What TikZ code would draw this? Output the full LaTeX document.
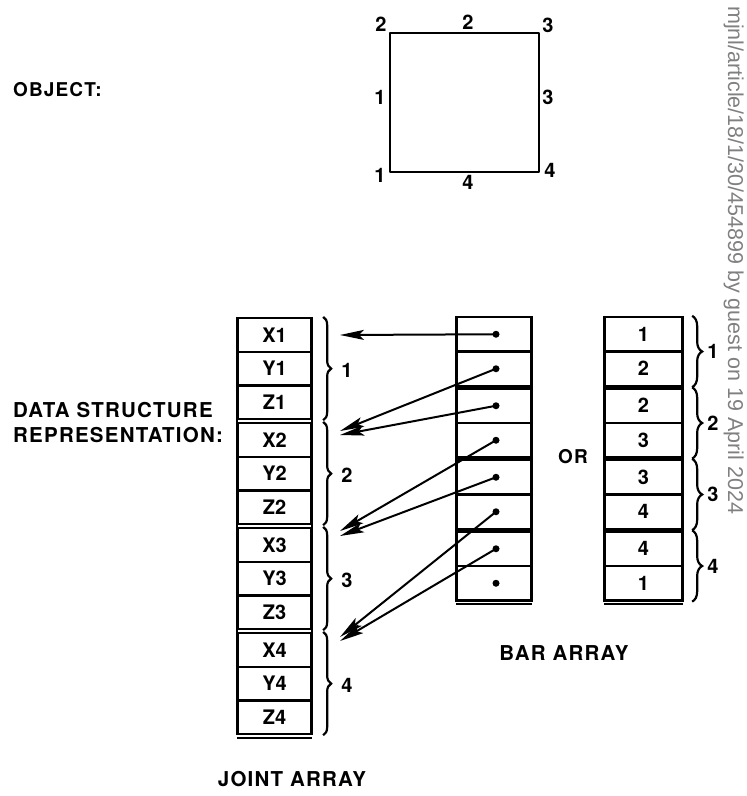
\documentclass[tikz,border=0pt]{standalone}
\usepackage{fontspec}
\setmainfont{TeX Gyre Heros}
\newfontfamily\wmfont{Liberation Sans}
\newfontfamily\capfont[LetterSpace=6]{TeX Gyre Heros}
\usetikzlibrary{arrows.meta,decorations.pathreplacing}
\begin{document}
\begin{tikzpicture}[x=1pt,y=-1pt,
  lbl/.style={font=\fontsize{20}{23}\selectfont\bfseries, inner sep=0pt},
  caption/.style={font=\fontsize{20.5}{23}\selectfont\capfont\bfseries, inner sep=0pt},
  cellbase/.style={draw, line width=2.3pt, inner sep=0pt, font=\fontsize{20}{23}\selectfont\bfseries},
  jcell/.style={cellbase, minimum width=73pt, minimum height=33.7pt},
  bcell/.style={cellbase, minimum width=74pt, minimum height=34.5pt},
  rcell/.style={cellbase, minimum width=77pt, minimum height=34.5pt},
  bdot/.style={circle, fill, inner sep=0pt, minimum size=7pt},
  ptr/.style={line width=2pt, -{Stealth[length=24pt,width=10pt,inset=5pt]}},
  jbrace/.style={line width=2.2pt, decorate, decoration={brace, amplitude=8pt}},
  rbrace/.style={line width=2.2pt, decorate, decoration={brace, amplitude=10pt}},
  edge/.style={line width=2.3pt}
]
\useasboundingbox (0,0) rectangle (747,796);

% ---- object ----
\coordinate (c1) at (390,172);
\coordinate (c2) at (390,33);
\coordinate (c3) at (539,33);
\coordinate (c4) at (539,172);
\draw[line width=2.8pt, line join=round] (c1) -- (c2) -- (c3) -- (c4) -- cycle;
\node[lbl] (v2) at (381,24) {2};
\node[lbl] (e2) at (468,22) {2};
\node[lbl] (v3) at (548,25) {3};
\node[lbl] (e1) at (380,97) {1};
\node[lbl] (e3) at (548,97) {3};
\node[lbl] (v1) at (380,175) {1};
\node[lbl] (v4) at (550,170) {4};
\node[lbl] (e4) at (468,182) {4};
\node[caption, anchor=west, font=\fontsize{19}{22}\selectfont\capfont\bfseries] (obj) at (13,90) {OBJECT:};

\node[caption, anchor=west, align=left] (dsr) at (13,423) {DATA STRUCTURE\\[2pt]REPRESENTATION:};

% ---- joint array ----
\foreach \g in {1,...,4} {
  \pgfmathsetmacro\gtop{318+105*(\g-1)}
  \node[jcell] (jx\g) at (274.5,\gtop+16.85) {X\g};
  \node[jcell] (jy\g) at (274.5,\gtop+50.55) {Y\g};
  \node[jcell] (jz\g) at (274.5,\gtop+84.25) {Z\g};
  \draw[jbrace] ([xshift=11pt]jx\g.north east) -- ([xshift=11pt]jz\g.south east);
  \node[lbl] (jl\g) at (347,\gtop+52) {\g};
}
\draw[edge] (jx1.north west) -- (jz4.south west);
\draw[edge] (jx1.north east) -- (jz4.south east);
\draw[edge] ([yshift=-2.5pt]jz4.south west) -- ([yshift=-2.5pt]jz4.south east);
\node[caption] (ja) at (292,779) {JOINT ARRAY};

% ---- bar array and alternative ----
\foreach \p/\a/\b in {1/1/2,2/2/3,3/3/4,4/4/1} {
  \pgfmathsetmacro\ptop{317+71.5*(\p-1)}
  \pgfmathtruncatemacro\ia{2*\p-1}
  \pgfmathtruncatemacro\ib{2*\p}
  \node[bcell] (b\ia) at (494,\ptop+17.25) {};
  \node[bcell] (b\ib) at (494,\ptop+51.75) {};
  \node[rcell] (r\ia) at (643.5,\ptop+17.25) {\a};
  \node[rcell] (r\ib) at (643.5,\ptop+51.75) {\b};
  \draw[rbrace] ([xshift=9pt]r\ia.north east) -- ([xshift=9pt]r\ib.south east);
  \node[lbl] (rl\p) at (713,\ptop+34.5) {\p};
}
\draw[edge] (b1.north west) -- (b8.south west);
\draw[edge] (b1.north east) -- (b8.south east);
\draw[edge] ([yshift=-2.5pt]b8.south west) -- ([yshift=-2.5pt]b8.south east);
\draw[edge] (r1.north west) -- (r8.south west);
\draw[edge] (r1.north east) -- (r8.south east);
\draw[edge] ([yshift=-2.5pt]r8.south west) -- ([yshift=-2.5pt]r8.south east);

\foreach \i in {1,...,8} {
  \node[bdot] (d\i) at ([xshift=2pt]b\i.center) {};
}

\coordinate (t1) at (340,335);
\coordinate (t2) at (340,431);
\coordinate (t3) at (340,435);
\coordinate (t4) at (340,531);
\coordinate (t5) at (340,536);
\coordinate (t6) at (340,637);
\coordinate (t7) at (340,641);
\foreach \i in {1,...,7} {
  \draw[ptr] (d\i.center) -- (t\i);
}

\node[caption, font=\fontsize{19}{22}\selectfont\capfont\bfseries] (or) at (573,457) {OR};
\node[caption] (ba) at (564,653) {BAR ARRAY};

% ---- margin stamp ----
\node[rotate=-90, anchor=base west, inner sep=0pt, text=black!50,
      font=\fontsize{21.5}{22}\selectfont\wmfont] (wm) at (728,6)
      {mjnl/article/18/1/30/454899 by guest on 19 April 2024};
\end{tikzpicture}
\end{document}
